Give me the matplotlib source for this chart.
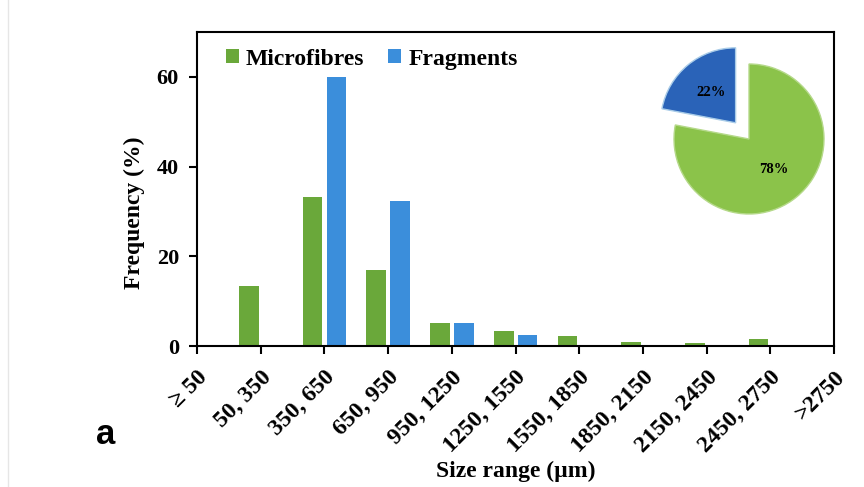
import matplotlib.pyplot as plt
import numpy as np

# size classes (um) and frequencies (%)
tick_labels = ['≥ 50', '50, 350', '350, 650', '650, 950', '950, 1250', '1250, 1550',
               '1550, 1850', '1850, 2150', '2150, 2450', '2450, 2750', '>2750']
microfibres = [13.4, 33.2, 17.0, 5.1, 3.3, 2.2, 1.0, 0.6, 1.6]
fragments = [0, 60.0, 32.4, 5.1, 2.5, 0, 0, 0, 0]

pie_labels = ['Fragments', 'Microfibres']
pie_share = [22, 78]

plt.rcParams['font.family'] = ['Liberation Serif', 'DejaVu Serif']
plt.rcParams['font.weight'] = 'bold'

W, H = 864, 487
fig = plt.figure(figsize=(W / 100, H / 100), dpi=100)
ax = fig.add_axes([197 / W, 1 - 346 / H, (834 - 197) / W, (346 - 32) / H])

green = '#6aa83a'
blue = '#3b8edb'
x = np.arange(1, len(microfibres) + 1)
w = 0.31
ax.bar(x - 0.185, microfibres, w, color=green, label='Microfibres')
ax.bar(x + 0.19, fragments, w, color=blue, label='Fragments')

ax.set_xlim(0, len(tick_labels) - 1)
ax.set_ylim(0, 70)
ax.set_yticks([0, 20, 40, 60])
ax.set_xticks(np.arange(len(tick_labels)))
ax.set_xticklabels(tick_labels, rotation=45, ha='right', rotation_mode='anchor')
ax.tick_params(axis='both', direction='out', length=6, width=1.5)
ax.tick_params(axis='y', labelsize=16, pad=7)
ax.tick_params(axis='x', labelsize=17, pad=9)
for s in ax.spines.values():
    s.set_linewidth(1.5)

ax.set_ylabel('Frequency (%)', fontsize=17, fontweight='bold')
ax.yaxis.set_label_coords(-0.099, 0.424)
ax.yaxis.label.set_va('center')
ax.set_xlabel('Size range (µm)', fontsize=17, fontweight='bold')
ax.xaxis.set_label_coords(0.5, -0.40)
ax.xaxis.label.set_va('center')

leg = ax.legend(loc='center left', bbox_to_anchor=(0.0455, 0.914), ncol=2, frameon=False,
                fontsize=17, handlelength=0.55, handleheight=0.55, handletextpad=0.3,
                columnspacing=1.0, borderpad=0, borderaxespad=0)

# inset pie
cx, cy, R, k = 749, 139, 75, 1.45
pax = fig.add_axes([(cx - R * k) / W, 1 - (cy + R * k) / H, 2 * R * k / W, 2 * R * k / H])
wedges, texts, autotexts = pax.pie(pie_share, colors=['#2a63b8', '#8bc34a'], explode=[0.28, 0],
                                   startangle=90, counterclock=True, autopct='%d%%',
                                   pctdistance=0.52,
                                   wedgeprops=dict(edgecolor='#a9cce8', linewidth=1))
wedges[1].set_edgecolor('#b5d98a')
for t in autotexts:
    t.set_fontsize(10.5)
    t.set_fontweight('bold')
    t.set_color('black')
pax.set_xlim(-k, k)
pax.set_ylim(-k, k)
pax.axis('off')

fig.text(106 / W, 1 - 434 / H, 'a', fontsize=25, fontweight='bold', family='Liberation Sans',
         ha='center', va='center')
fig.add_artist(plt.Line2D([8 / W, 8 / W], [0, 1], color='#e6e6e6', lw=1))

fig.savefig('out.png', dpi=100)
